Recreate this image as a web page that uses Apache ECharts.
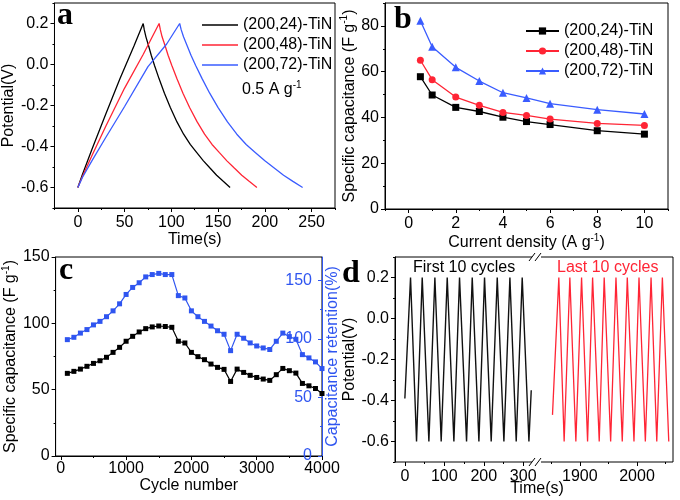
<!DOCTYPE html>
<html><head><meta charset="utf-8">
<script src="https://cdn.jsdelivr.net/npm/echarts@6/dist/echarts.min.js"></script>
<style>html,body{margin:0;padding:0;background:#fff}#c{width:680px;height:500px}</style>
</head><body><div id="c"></div>
<script>
// ---------- DATA ----------
// panel a: galvanostatic charge/discharge at 0.5 A/g  [time(s), potential(V)]
const seriesNamesA = ['(200,24)-TiN', '(200,48)-TiN', '(200,72)-TiN'];
const gcd24 = [[0,-0.6],[5,-0.535],[15,-0.415],[30,-0.24],[45,-0.07],[60,0.09],[69.9,0.2],
  [71.0,0.17],[72.8,0.135],[75.7,0.09],[78.5,0.045],[82.0,-0.005],[86.9,-0.07],[92.6,-0.14],[98.9,-0.21],[106.0,-0.28],[113.1,-0.34],[120.2,-0.39],[127.2,-0.43],[134.3,-0.47],[141.3,-0.505],[148.4,-0.54],[155.5,-0.57],[162.8,-0.6]];
const gcd48 = [[0,-0.6],[5,-0.545],[15,-0.445],[30,-0.3],[50,-0.115],[70,0.05],[86.9,0.2],
  [88.2,0.17],[90.1,0.135],[93.4,0.09],[96.5,0.045],[100.5,-0.005],[106.0,-0.07],[112.4,-0.14],[119.5,-0.21],[127.6,-0.28],[135.5,-0.34],[143.5,-0.39],[151.4,-0.43],[159.4,-0.47],[167.3,-0.505],[175.3,-0.54],[183.2,-0.57],[191.5,-0.6]];
const gcd72 = [[0,-0.6],[5,-0.55],[15,-0.47],[30,-0.355],[50,-0.205],[75,-0.01],[95,0.1],[108.9,0.2],
  [110.5,0.17],[113,0.135],[117,0.09],[121,0.045],[126,-0.005],[133,-0.07],[141,-0.14],[150,-0.21],[160,-0.28],[170,-0.34],[180,-0.39],[190,-0.43],[200,-0.47],[210,-0.505],[220,-0.54],[230,-0.57],[240.4,-0.6]];
const aXTicks = [0,50,100,150,200,250];
const aXMinor = [-25,25,75,125,175,225,275];
const potTicks = [-0.6,-0.4,-0.2,0.0,0.2];
const potMinor = [-0.7,-0.5,-0.3,-0.1,0.1,0.3];

// panel b: specific capacitance vs current density
const currentDensity = [0.5,1,2,3,4,5,6,8,10];
const cap24 = [57.8,49.8,44.4,42.6,40.1,38.2,36.9,34.2,32.7];
const cap48 = [65.0,56.5,48.9,45.3,42.2,40.9,39.3,37.4,36.5];
const cap72 = [82.2,70.9,61.9,55.9,50.8,48.5,46.0,43.4,41.5];
const bXTicks = [0,2,4,6,8,10];
const bXMinor = [-1,1,3,5,7,9,11];
const bYTicks = [0,20,40,60,80];
const bYMinor = [10,30,50,70,90];

// panel c: cycling stability
const cycleNum = [100,200,300,400,500,600,700,800,900,1000,1100,1200,1300,1400,1500,1600,1700,1800,1900,2000,2100,2200,2300,2400,2500,2600,2700,2800,2900,3000,3100,3200,3300,3400,3500,3600,3700,3800,3900,4000];
const cycCap = [62.3,63.8,65.5,67.6,69.8,71.8,74.4,78.1,81.9,86.5,90.2,93.5,96.0,97.3,98.0,97.6,97.0,86.5,85.2,78.1,74.9,72.6,69.3,66.8,65.3,56.2,65.5,63.0,60.8,59.2,58.0,57.0,61.3,66.0,64.3,62.5,54.7,52.9,50.9,47.1];
const cycRet = [99.4,101.4,105,108,112,115,119,124,130,138,144,148,153,155,156,155,155,137,135,124,119,115,111,107,104,90,104,100.6,96.6,94,92.3,91,98,105,102,99.7,86.6,83.8,80.4,74.7];
const cXTicks = [0,1000,2000,3000,4000];
const cXMinor = [500,1500,2500,3500];
const cYTicks = [0,50,100,150];
const cYMinor = [25,75,125];
const cRTicks = [0,50,100,150];
const cRMinor = [25,75,125];

// panel d: first and last 10 cycles
const firstT = [0,14.4,29.6,44.0,60.9,76.1,92.1,107.4,124.3,138.6,156.4,170.8,187.7,202.0,218.9,234.2,251.1,266.3,282.3,297.5,314.5,320.4];
const firstV = [-0.39,0.2,-0.6,0.2,-0.6,0.2,-0.6,0.2,-0.6,0.2,-0.6,0.2,-0.6,0.2,-0.6,0.2,-0.6,0.2,-0.6,0.2,-0.6,-0.35];
const lastT = [1852.1,1863.2,1872.5,1882.5,1893,1903,1913.5,1922.3,1933.9,1942.6,1953.9,1963.2,1974.2,1983,1994.7,2003.5,2014.6,2024.6,2034.6,2044.4,2055.6];
const lastV = [-0.47,0.2,-0.6,0.2,-0.6,0.2,-0.6,0.2,-0.6,0.2,-0.6,0.2,-0.6,0.2,-0.6,0.2,-0.6,0.2,-0.6,0.2,-0.6];
const d1XTicks = [0,100,200,300];
const d1XMinor = [50,150,250];
const d2XTicks = [1900,2000];
const d2XMinor = [1850,1950,2050];

// ---------- STYLE ----------
const FONT = "'Liberation Sans', Arial, sans-serif";
const SERIF = "'Liberation Serif', 'Times New Roman', serif";
const BLACK = '#000000', RED = '#ff2535', BLUE = '#3a5cff', CBLUE = '#2f55f0';

function zip(a, b) { return a.map((v, i) => [v, b[i]]); }

function majorAxis(grid, min, max, ticks, pos, o) {
  o = o || {};
  const color = o.color || '#000';
  return {
    type: 'value', gridIndex: grid, min: min, max: max, position: pos,
    name: o.name || '', nameLocation: 'middle', nameGap: o.nameGap || 20,
    nameRotate: o.nameRotate, show: o.show === undefined ? true : o.show,
    nameTextStyle: Object.assign({ fontFamily: FONT, fontSize: 16, color: color }, o.nameStyle || {}),
    axisLine: { show: o.line !== false, onZero: false, lineStyle: { color: color, width: 1 } },
    axisTick: { show: true, inside: !!o.inside, length: 4, customValues: ticks, lineStyle: { color: color, width: 1 } },
    axisLabel: { show: true, inside: !!o.inside, customValues: ticks, margin: o.margin || 6, fontFamily: FONT, fontSize: 16, color: color,
      formatter: o.fmt || (v => String(v)) },
    splitLine: { show: false }
  };
}
function minorAxis(grid, min, max, ticks, pos, o) {
  o = o || {};
  const color = o.color || '#000';
  return {
    type: 'value', gridIndex: grid, min: min, max: max, position: pos,
    axisLine: { show: false, onZero: false },
    axisTick: { show: true, inside: !!o.inside, length: 2, customValues: ticks, lineStyle: { color: color, width: 1 } },
    axisLabel: { show: false },
    splitLine: { show: false }
  };
}
const potFmt = v => v.toFixed(1);
const sup = (pre, post) => '{t|' + pre + '}{s|-1}{t|' + post + '}';
const richName = { t: { fontFamily: FONT, fontSize: 16, lineHeight: 20 }, s: { fontFamily: FONT, fontSize: 10, verticalAlign: 'top' } };

const gridStyle = { show: true, borderColor: '#000', borderWidth: 1, backgroundColor: 'transparent' };

const option = {
  animation: false,
  backgroundColor: '#fff',
  textStyle: { fontFamily: FONT },
  grid: [
    Object.assign({ left: 50, top: 3, width: 285, height: 205 }, gridStyle),
    Object.assign({ left: 385, top: 3, width: 283, height: 206 }, gridStyle),
    Object.assign({ left: 53, top: 257, width: 269, height: 199 }, gridStyle),
    { left: 395, top: 257, width: 142, height: 205, show: false },
    { left: 537, top: 257, width: 136, height: 205, show: false }
  ],
  xAxis: [
    majorAxis(0, -25, 275, aXTicks, 'bottom', { name: 'Time(s)', nameGap: 23, margin: 7 }),
    minorAxis(0, -25, 275, aXMinor, 'bottom'),
    majorAxis(1, -1, 11, bXTicks, 'bottom', { name: sup('Current density (A g', ')'), nameGap: 21, margin: 7, nameStyle: { rich: richName } }),
    minorAxis(1, -1, 11, bXMinor, 'bottom'),
    majorAxis(2, -80, 4000, cXTicks, 'bottom', { name: 'Cycle number', nameGap: 19, margin: 5 }),
    minorAxis(2, -80, 4000, cXMinor, 'bottom'),
    majorAxis(3, -25, 335, d1XTicks, 'bottom', { line: false, margin: 7 }),
    minorAxis(3, -25, 335, d1XMinor, 'bottom'),
    majorAxis(4, 1825, 2063, d2XTicks, 'bottom', { line: false, margin: 7 }),
    minorAxis(4, 1825, 2063, d2XMinor, 'bottom')
  ],
  yAxis: [
    majorAxis(0, -0.7, 0.3, potTicks, 'left', { name: 'Potential(V)', nameGap: 33, nameRotate: 90, fmt: potFmt }),
    minorAxis(0, -0.7, 0.3, potMinor, 'left'),
    majorAxis(1, 0, 90, bYTicks, 'left', { name: sup('Specific capacitance (F g', ')'), nameGap: 24, nameRotate: 90, nameStyle: { rich: richName } }),
    minorAxis(1, 0, 90, bYMinor, 'left'),
    majorAxis(2, 0, 150, cYTicks, 'left', { name: sup('Specific capacitance (F g', ')'), nameGap: 30, nameRotate: 90, nameStyle: { rich: richName } }),
    minorAxis(2, 0, 150, cYMinor, 'left'),
    majorAxis(2, 0, 170, cRTicks, 'right', { name: 'Capacitance retention(%)', nameGap: 3, nameRotate: 90, color: CBLUE, inside: true, margin: 10 }),
    minorAxis(2, 0, 170, cRMinor, 'right', { color: CBLUE, inside: true }),
    majorAxis(3, -0.7, 0.3, potTicks, 'left', { name: 'Potential(V)', nameGap: 35, nameRotate: 90, fmt: potFmt }),
    minorAxis(3, -0.7, 0.3, potMinor, 'left'),
    { type: 'value', gridIndex: 4, min: -0.7, max: 0.3, show: false }
  ],
  legend: [
    { left: 197, top: 12, orient: 'vertical', icon: 'rect', itemWidth: 36, itemHeight: 1.5, itemGap: 4, selectedMode: false,
      data: seriesNamesA, textStyle: { fontFamily: FONT, fontSize: 16, color: '#000' } },
    { left: 520, top: 18, orient: 'vertical', itemWidth: 33, itemHeight: 9, itemGap: 4, selectedMode: false,
      data: seriesNamesA.map(n => 'b:' + n), formatter: n => n.slice(2),
      textStyle: { fontFamily: FONT, fontSize: 16, color: '#000' } }
  ],
  series: [
    { name: seriesNamesA[0], type: 'line', xAxisIndex: 0, yAxisIndex: 0, data: gcd24, symbol: 'none', lineStyle: { color: BLACK, width: 1.3 }, itemStyle: { color: BLACK } },
    { name: seriesNamesA[1], type: 'line', xAxisIndex: 0, yAxisIndex: 0, data: gcd48, symbol: 'none', lineStyle: { color: RED, width: 1.3 }, itemStyle: { color: RED } },
    { name: seriesNamesA[2], type: 'line', xAxisIndex: 0, yAxisIndex: 0, data: gcd72, symbol: 'none', lineStyle: { color: BLUE, width: 1.3 }, itemStyle: { color: BLUE } },

    { name: 'b:' + seriesNamesA[0], type: 'line', xAxisIndex: 2, yAxisIndex: 2, data: zip(currentDensity, cap24), symbol: 'rect', symbolSize: 7, lineStyle: { color: BLACK, width: 1.3 }, itemStyle: { color: BLACK } },
    { name: 'b:' + seriesNamesA[1], type: 'line', xAxisIndex: 2, yAxisIndex: 2, data: zip(currentDensity, cap48), symbol: 'circle', symbolSize: 7, lineStyle: { color: RED, width: 1.3 }, itemStyle: { color: RED } },
    { name: 'b:' + seriesNamesA[2], type: 'line', xAxisIndex: 2, yAxisIndex: 2, data: zip(currentDensity, cap72), symbol: 'triangle', symbolSize: 8, lineStyle: { color: BLUE, width: 1.3 }, itemStyle: { color: BLUE } },

    { name: 'cap', type: 'line', xAxisIndex: 4, yAxisIndex: 4, data: zip(cycleNum, cycCap), symbol: 'rect', symbolSize: 5, lineStyle: { color: BLACK, width: 1.2 }, itemStyle: { color: BLACK } },
    { name: 'ret', type: 'line', xAxisIndex: 4, yAxisIndex: 6, data: zip(cycleNum, cycRet), symbol: 'rect', symbolSize: 5, lineStyle: { color: CBLUE, width: 1.2 }, itemStyle: { color: CBLUE } },

    { name: 'first', type: 'line', xAxisIndex: 6, yAxisIndex: 8, data: zip(firstT, firstV), symbol: 'none', lineStyle: { color: '#111', width: 1.4 } },
    { name: 'last', type: 'line', xAxisIndex: 8, yAxisIndex: 10, data: zip(lastT, lastV), symbol: 'none', lineStyle: { color: RED, width: 1.3 } }
  ],
  graphic: [
    { type: 'text', z: 100, style: { text: 'a', x: 57, y: 16, font: 'bold 32px ' + SERIF, fill: '#000', verticalAlign: 'middle' } },
    { type: 'text', z: 100, style: { text: 'b', x: 394, y: 20, font: 'bold 32px ' + SERIF, fill: '#000', verticalAlign: 'middle' } },
    { type: 'text', z: 100, style: { text: 'c', x: 59, y: 271, font: 'bold 32px ' + SERIF, fill: '#000', verticalAlign: 'middle' } },
    { type: 'text', z: 100, style: { text: 'd', x: 342, y: 274, font: 'bold 32px ' + SERIF, fill: '#000', verticalAlign: 'middle' } },
    { type: 'text', z: 100, style: { text: '{t|0.5 A g}{s|-1}', x: 242, y: 90, fill: '#000', verticalAlign: 'middle', rich: { t: { fontFamily: FONT, fontSize: 16, lineHeight: 20 }, s: { fontFamily: FONT, fontSize: 10, verticalAlign: 'top' } } } },
    { type: 'text', z: 100, style: { text: 'First 10 cycles', x: 413, y: 268, font: '16px ' + FONT, fill: '#000', verticalAlign: 'middle' } },
    { type: 'text', z: 100, style: { text: 'Last 10 cycles', x: 557, y: 268, font: '16px ' + FONT, fill: RED, verticalAlign: 'middle' } },
    { type: 'text', z: 100, style: { text: 'Time(s)', x: 537, y: 489, font: '16px ' + FONT, fill: '#000', align: 'center', verticalAlign: 'middle' } },
    { type: 'rect', z: 90, shape: { x: 395, y: 257, width: 278, height: 205 }, style: { fill: 'none', stroke: '#000', lineWidth: 1 } },
    { type: 'rect', z: 95, shape: { x: 532, y: 254, width: 9, height: 6 }, style: { fill: '#fff' } },
    { type: 'rect', z: 95, shape: { x: 532, y: 459, width: 9, height: 6 }, style: { fill: '#fff' } },
    { type: 'line', z: 100, shape: { x1: 529, y1: 261, x2: 535, y2: 253 }, style: { stroke: '#000', lineWidth: 1 } },
    { type: 'line', z: 100, shape: { x1: 535, y1: 261, x2: 541, y2: 253 }, style: { stroke: '#000', lineWidth: 1 } },
    { type: 'line', z: 100, shape: { x1: 529, y1: 466, x2: 535, y2: 458 }, style: { stroke: '#000', lineWidth: 1 } },
    { type: 'line', z: 100, shape: { x1: 535, y1: 466, x2: 541, y2: 458 }, style: { stroke: '#000', lineWidth: 1 } }
  ]
};
const chart = echarts.init(document.getElementById('c'), null, { renderer: 'canvas' });
chart.setOption(option);
</script></body></html>
